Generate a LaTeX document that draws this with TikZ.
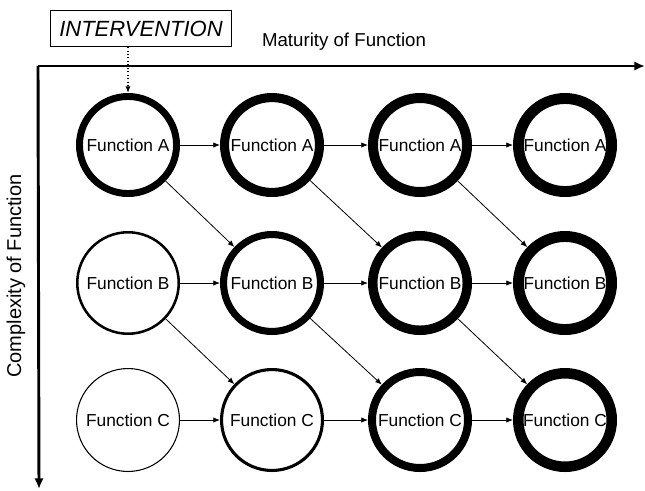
\documentclass[tikz,border=0pt]{standalone}
\usepackage{fontspec}
\setmainfont{Liberation Sans}
\usepackage{tikz}
\usetikzlibrary{arrows.meta}

\tikzset{
  func/.style={circle, draw, line width=#1, minimum size={78pt-#1}, inner sep=0pt,
    font=\fontsize{13}{15}\selectfont},
  link/.style={-{Latex[length=5pt,width=4pt]}, line width=0.6pt},
  axis/.style={-{Latex[length=8pt,width=7pt]}, line width=2.2pt},
}

\begin{document}
\begin{tikzpicture}[x=0.75pt, y=-0.75pt]
                \useasboundingbox (0,0) rectangle (645,490);

                % 坐标轴
                \coordinate (o) at (38,66);
                \coordinate (xend) at (645,66);
                \coordinate (yend) at (39,489);
                \draw[axis] (o) -- (xend);
                \draw[axis] (o) -- (yend);
                \node (mat) at (344,42) {\fontsize{14}{16}\selectfont Maturity of Function};
                \node[rotate=90] (cplx) at (16,276) {\fontsize{15}{17}\selectfont Complexity of Function};

                % 第一行
                \node[func=5.2pt] (a1) at (128,145) {Function A};
                \node[func=6.8pt] (a2) at (272,145) {Function A};
                \node[func=7.5pt] (a3) at (420,145) {Function A};
                \node[func=8.2pt] (a4) at (565,145) {Function A};

                % 第二行
                \node[func=1.9pt] (b1) at (128,283) {Function B};
                \node[func=5.3pt] (b2) at (272,283) {Function B};
                \node[func=7.1pt] (b3) at (420,283) {Function B};
                \node[func=8.2pt] (b4) at (565,283) {Function B};

                % 第三行
                \node[func=0.8pt] (c1) at (128,420) {Function C};
                \node[func=2.3pt] (c2) at (272,420) {Function C};
                \node[func=6pt] (c3) at (420,420) {Function C};
                \node[func=7.9pt] (c4) at (565,420) {Function C};

                % 水平箭头
                \draw[link] (a1) -- (a2);
                \draw[link] (a2) -- (a3);
                \draw[link] (a3) -- (a4);
                \draw[link] (b1) -- (b2);
                \draw[link] (b2) -- (b3);
                \draw[link] (b3) -- (b4);
                \draw[link] (c1) -- (c2);
                \draw[link] (c2) -- (c3);
                \draw[link] (c3) -- (c4);

                % 斜向箭头
                \draw[link] (a1) -- (b2);
                \draw[link] (a2) -- (b3);
                \draw[link] (a3) -- (b4);
                \draw[link] (b1) -- (c2);
                \draw[link] (b2) -- (c3);
                \draw[link] (b3) -- (c4);

                % 干预
                \node[draw, line width=0.8pt, minimum width=136pt, minimum height=27pt,
                      font=\fontsize{16.5}{18}\selectfont\itshape] (iv) at (141,28.5) {INTERVENTION};
                \draw[link, dotted, line width=1pt] (iv.south -| a1.north) -- (a1.north);
            \end{tikzpicture}
\end{document}
